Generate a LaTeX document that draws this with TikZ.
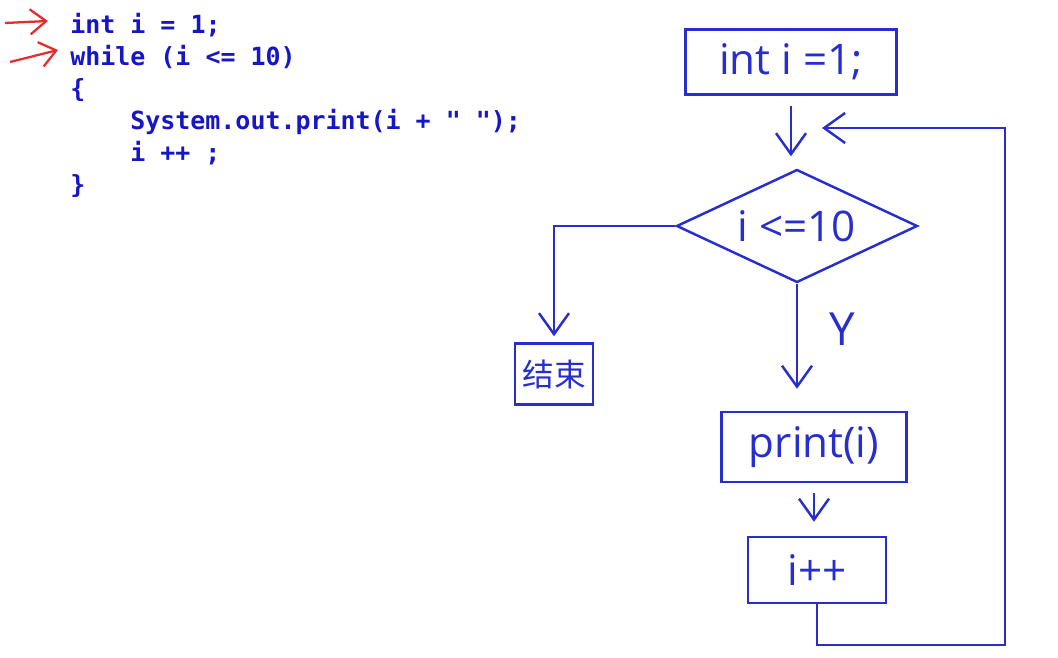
\documentclass[tikz,border=0pt]{standalone}
\usepackage{fontspec}
\usepackage{tikz}
\usetikzlibrary{shapes.geometric, arrows.meta, positioning}
\newfontfamily\codefont{DejaVu Sans Mono}
\newfontfamily\handfont{Open Sans}
\newfontfamily\cjkfont{Noto Sans CJK SC}
\definecolor{codeblue}{RGB}{22,22,200}
\definecolor{penblue}{RGB}{40,45,205}
\definecolor{penred}{RGB}{225,45,45}
\tikzstyle{code} = [anchor=base west, inner sep=0pt, text=codeblue,
font=\codefont\bfseries\fontsize{14.2}{16}\selectfont]
\tikzstyle{block} = [rectangle, draw=penblue, line width=1.4pt, inner sep=0pt,
text=penblue, font=\handfont\fontsize{24}{28}\selectfont]
\tikzstyle{decision} = [diamond, aspect=2.13, draw=penblue, line width=1.4pt, inner sep=0pt,
minimum width=4.82cm, minimum height=2.26cm,
text=penblue, font=\handfont\fontsize{24}{28}\selectfont]
\tikzstyle{arrow} = [line width=1.4pt, draw=penblue, -{Straight Barb[length=0.42cm, width=0.6cm]}]
\tikzstyle{redarrow} = [line width=1.3pt, draw=penred, -{Straight Barb[length=0.32cm, width=0.5cm]}]

\begin{document}
\begin{tikzpicture}[x=0.02cm, y=-0.02cm]
    \useasboundingbox (0,0) rectangle (1058,658);

    % Java source
    \node[code] (l1) at (70,34)  {int i = 1;};
    \node[code] (l2) at (70,66)  {while (i <= 10)};
    \node[code] (l3) at (70,98)  {\{};
    \node[code] (l4) at (130,130) {System.out.print(i + " ");};
    \node[code] (l5) at (130,162) {i ++ ;};
    \node[code] (l6) at (70,194) {\}};

    % red marks on the first two lines
    \coordinate (m1) at (5,23);
    \coordinate (m2) at (10,62);
    \draw[redarrow] (m1) -- ([xshift=-0.44cm, yshift=0.26cm]l1.base west);
    \draw[redarrow] (m2) -- ([xshift=-0.24cm, yshift=0.32cm]l2.base west);

    % flow chart
    \node[block, minimum width=4.22cm, minimum height=1.3cm] (init) at (791,62) {int i =1;};
    \node[decision] (cond) at (797,226) {i <=10};
    \node[block, minimum width=1.56cm, minimum height=1.22cm, font=\cjkfont\fontsize{18}{20}\selectfont] (stop) at (554,374) {结束};
    \node[block, minimum width=3.7cm, minimum height=1.4cm] (body) at (814,447) {print(i)};
    \node[block, minimum width=2.76cm, minimum height=1.32cm] (incr) at (817,570) {i++};

    % connections
    \draw[arrow, shorten <=0.2cm, shorten >=0.24cm] (init.south) -- (init.south |- cond.north);
    \draw[arrow, shorten >=0.12cm] (cond.west) -| (stop.north);
    \draw[arrow, shorten >=0.44cm] (cond.south) -- (cond.south |- body.north)
        node[pos=0.36, right=0.5cm, text=penblue, font=\handfont\fontsize{26}{30}\selectfont] (yes) {Y};
    \draw[arrow, shorten <=0.2cm, shorten >=0.28cm] (body.south) -- (body.south |- incr.north);

    % loop back to the test
    \coordinate (loopbr) at (1005,645);
    \coordinate (entry) at (797,128);
    \draw[arrow, shorten >=0.5cm] (incr.south) |- (loopbr) |- (entry);

\end{tikzpicture}
\end{document}
